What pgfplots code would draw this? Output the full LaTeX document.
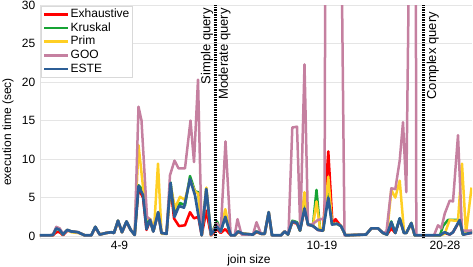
\documentclass[border=0pt]{standalone}
\usepackage{pgfplots}
\pgfplotsset{compat=1.18}
\usepackage{fontspec}
\setmainfont{Liberation Sans}
\definecolor{exh}{RGB}{255,0,0}
\definecolor{kru}{RGB}{22,163,52}
\definecolor{prim}{RGB}{255,207,36}
\definecolor{goo}{RGB}{197,128,160}
\definecolor{este}{RGB}{44,94,150}
\begin{document}
\fontsize{12}{14}\selectfont
\begin{tikzpicture}
\begin{axis}[
  name=ax,
  scale only axis, width=432pt, height=233pt,
  xmin=0, xmax=432, ymin=-0.25, ymax=30,
  ytick={0,5,10,15,20,25,30},
  xtick={79.5,282,405}, xticklabels={4-9,10-19,20-28},
  major tick length=0pt,
  axis lines*=left,
  axis line style={draw=black!12, line width=0.6pt},
  ymajorgrids, grid style={draw=black!10, line width=0.7pt},
  /pgf/number format/assume math mode=true,
  ticklabel style={font=\fontsize{12}{14}\selectfont},
  yticklabel style={xshift=-0.5pt},
  xticklabel style={yshift=1pt},
  xlabel={join size},
  ylabel={execution time (sec)},
  xlabel style={at={(axis cs:209,-0.25)}, anchor=north, yshift=-13pt, font=\fontsize{12}{14}\selectfont},
  ylabel style={at={(axis description cs:-0.074,0.455)}, anchor=center, rotate=0, font=\fontsize{12}{14}\selectfont},
  legend cell align=left,
  legend style={at={(axis description cs:0.003,0.997)}, anchor=north west, draw=black!15, fill=white,
    font=\fontsize{12}{14}\selectfont, inner sep=1.5pt, row sep=0pt,
    nodes={inner sep=1pt, text height=9pt, text depth=2.7pt}},
  legend image code/.code={\draw[#1] (0pt,0pt) -- (24pt,0pt);},
]
\addplot[exh, line width=2.5pt, line join=round] coordinates {(0,0.1) (13,0.1) (16.3,0.5) (19.7,0.5) (23,0.1) (27.3,0.7) (31.3,0.6) (38,0.5) (41.3,0.3) (44.7,0.1) (51.3,0.1) (55.3,1.1) (59.7,0.2) (66,0.4) (71.3,0.5) (74,0.4) (78,1.9) (82,0.5) (86.5,1.8) (90.7,0.8) (94.7,0.15) (98.5,6.2) (103,5.0) (106.5,0.8) (110,2.0) (113.3,0.6) (118.2,3.0) (121.5,0.4) (126.5,0.3) (130.5,6.5) (134,2.3) (139,1.3) (145,1.4) (150,3.1) (154,2.3) (158.3,2.5) (161.7,0.1) (166.3,3.3) (171,0.1) (177,0.9) (180.7,0.4) (185.3,0.9) (190.7,0.1) (194.7,0.1) (198,0.5) (203,0.3) (213,0.2) (216.3,0.5) (221.3,0.3) (224.7,0.3) (228.7,3.0) (232,0.1) (241,0.1) (244.7,0.6) (248,0.2) (252.3,1.8) (257,1.6) (260,0.7) (264.5,3.5) (268,1.5) (273,1.3) (278,0.8) (283,0.7) (288.3,11.0) (292.5,1.5) (295.5,2.2) (299,1.6) (301,1.3) (305.5,0.1) (326,0.2) (331.3,1.0) (338,1.0) (343,0.4) (347,0.2) (351.3,1.0) (355.3,0.4) (359.7,2.2) (364,0.4) (366.3,0.4) (371.3,1.6) (374.7,0.1) (400,0.1) (404.7,0.4) (409.7,0.2) (413,0.5) (419.7,2.0) (423,0.2) (430.7,0.4) (432,0.4)};
\addlegendentry{Exhaustive}
\addplot[kru, line width=2.5pt, line join=round] coordinates {(0,0.1) (10,0.1) (13,0.15) (16.3,1.0) (19.7,0.8) (23,0.2) (27.3,0.8) (31.3,0.6) (38,0.5) (41.3,0.3) (44.7,0.1) (51.3,0.1) (55.3,1.2) (59.7,0.2) (66,0.4) (71.3,0.5) (74,0.4) (78,2.0) (82,0.5) (86.5,1.9) (90.7,0.8) (94.7,0.15) (98.5,6.6) (103,6.0) (106.5,1.5) (110,2.1) (113.3,0.6) (118.2,3.1) (121.5,0.4) (126.5,0.3) (130.5,7.0) (134.5,2.8) (140,4.3) (145,4.0) (150,7.8) (155,5.8) (158.3,5.7) (161.7,0.1) (166.3,6.2) (171,0.2) (177,1.9) (180.7,0.7) (185.3,2.5) (190.7,0.1) (194.7,0.1) (198,0.6) (203,0.3) (213,0.2) (216.3,0.6) (221.3,0.3) (224.7,0.3) (228.7,3.1) (232,0.1) (241,0.1) (244.7,0.6) (248,0.2) (252.3,2.0) (257,1.8) (260,0.7) (264.5,3.9) (268,1.5) (273,1.4) (276.5,6.0) (280,1.0) (283,0.7) (288.3,5.5) (292,1.6) (297,1.6) (301,1.3) (305.5,0.1) (326,0.2) (331.3,1.0) (338,1.0) (343,0.4) (347,0.2) (351.3,1.9) (355.3,0.4) (359.7,2.3) (364,0.4) (366.3,0.4) (371.3,1.7) (374.7,0.1) (400,0.1) (403,1.3) (408,2.1) (416.3,2.1) (419.7,1.9) (423,0.2) (430.7,0.6) (432,0.6)};
\addlegendentry{Kruskal}
\addplot[prim, line width=2.5pt, line join=round] coordinates {(0,0.1) (10,0.1) (13,0.15) (16.3,1.0) (19.7,0.8) (23,0.2) (27.3,0.8) (31.3,0.5) (38,0.4) (41.3,0.3) (44.7,0.1) (51.3,0.1) (55.3,1.2) (59.7,0.2) (66,0.4) (71.3,0.5) (74,0.4) (78,2.0) (82,0.5) (86.5,1.9) (90.7,0.8) (94.7,0.15) (98.5,11.8) (103,6.4) (107,2.3) (110.5,2.2) (114,0.8) (118,9.4) (121.5,0.3) (126.5,0.3) (130.5,6.7) (135,3.6) (140,5.1) (145,4.7) (150,7.3) (155,5.8) (158.3,5.5) (161.7,0.1) (166.3,6.3) (171,0.1) (177,1.5) (180.7,0.6) (185.3,3.5) (190.7,0.1) (194.7,0.1) (198,0.6) (203,0.3) (213,0.2) (216.3,0.6) (221.3,0.3) (224.7,0.3) (228.7,3.1) (232,0.1) (241,0.1) (244.7,0.6) (248,0.2) (252.3,1.9) (257,1.7) (260,0.7) (264.5,5.7) (268,1.5) (273,1.3) (276.5,4.5) (280,1.0) (283,0.7) (288.3,7.7) (292,1.6) (297,1.6) (301,1.3) (305.5,0.1) (326,0.2) (331.3,1.0) (338,1.0) (343,0.4) (347,0.2) (351.3,6.0) (355.3,5.0) (359.7,7.2) (364,0.6) (366.3,0.4) (371.3,1.7) (374.7,0.1) (400,0.1) (404.7,0.3) (409.7,2.1) (414.7,2.0) (418,2.0) (422,9.4) (426,0.3) (431.5,6.3)};
\addlegendentry{Prim}
\addplot[goo, line width=2.5pt, line join=round] coordinates {(0,0.1) (10,0.1) (13,0.2) (16.3,1.2) (19.7,1.0) (23,0.3) (27.3,0.8) (31.3,0.6) (38,0.5) (41.3,0.3) (44.7,0.1) (51.3,0.1) (55.3,1.2) (59.7,0.2) (66,0.4) (71.3,0.5) (74,0.4) (78,2.0) (82,0.5) (86.5,1.9) (90.7,0.8) (94.7,0.15) (98.5,16.8) (101.5,15.0) (107,2.5) (110.5,2.1) (113.3,0.6) (118.2,3.1) (121.5,0.4) (126.5,0.3) (130,7.9) (134.5,9.8) (138.5,8.8) (145,8.8) (150.5,15.0) (154,9.6) (158,20.3) (161.7,0.1) (166.3,6.0) (171,0.1) (177,1.7) (180.7,0.5) (185.5,12.3) (190.7,0.1) (194.7,0.1) (197.5,2.2) (201.5,0.2) (213,0.2) (216.5,1.8) (221,0.3) (224.7,0.3) (228.7,3.1) (232,0.1) (241,0.1) (244.7,0.6) (248.5,0.3) (252.3,14.1) (257,14.2) (260.3,0.8) (264.5,22.3) (268,1.4) (273,1.6) (278,2.1) (284.5,2.3) (288,150) (292,100) (296,100) (300.5,50) (304.5,0.1) (326,0.2) (331.3,1.0) (338,1.0) (343,0.4) (346.5,0.6) (351.3,6.2) (355.3,6.1) (359.7,9.8) (363,14.8) (366.3,5.7) (370.3,50) (374.3,150) (376.3,0.1) (394,0.1) (398,1.4) (401.3,1.0) (404.7,2.9) (409.7,4.6) (413,4.5) (418,13.1) (422,0.7) (426.3,0.7) (430.7,0.7) (432,0.8)};
\addlegendentry{GOO}
\addplot[este, line width=2.7pt, line join=round] coordinates {(0,0.1) (10,0.1) (13,0.15) (16.3,1.0) (19.7,0.8) (23,0.2) (27.3,0.8) (31.3,0.6) (38,0.5) (41.3,0.3) (44.7,0.1) (51.3,0.1) (55.3,1.2) (59.7,0.2) (66,0.4) (71.3,0.5) (74,0.4) (78,2.0) (82,0.5) (86.5,1.9) (90.7,0.8) (94.7,0.15) (98.5,6.5) (103,5.3) (106.5,0.9) (110,2.1) (113.3,0.6) (118.2,3.1) (121.5,0.4) (126.5,0.3) (130.5,6.9) (134.5,2.5) (139,3.9) (144,3.7) (150,7.4) (155,5.3) (161.7,0.1) (166.3,6.1) (171,0.2) (177,1.2) (180.7,0.6) (185.3,2.5) (190.7,0.1) (194.7,0.1) (198,0.6) (203,0.3) (213,0.2) (216.3,0.6) (221.3,0.3) (224.7,0.3) (228.7,3.1) (232,0.1) (241,0.1) (244.7,0.6) (248,0.2) (252.3,1.9) (257,1.7) (260,0.7) (264.5,3.6) (268,1.5) (273,1.3) (278,0.8) (283,0.7) (288.3,5.0) (292,1.5) (297,1.6) (301,1.3) (305.5,0.1) (326,0.2) (331.3,1.0) (338,1.0) (343,0.4) (347,0.2) (351.3,1.8) (355.3,0.4) (359.7,2.3) (364,0.4) (366.3,0.4) (371.3,1.7) (374.7,0.1) (400,0.1) (404.7,0.5) (409.7,0.2) (413,0.5) (419.7,2.1) (423,0.2) (430.7,0.4) (432,0.4)};
\addlegendentry{ESTE}
\draw[black, line width=3pt, dash pattern=on 1.6pt off 0.9pt] (axis cs:175,-0.3) -- (axis cs:175,30);
\draw[black, line width=3pt, dash pattern=on 1.6pt off 0.9pt] (axis cs:383,-0.3) -- (axis cs:383,30);
\node[rotate=90, anchor=south east, inner sep=0pt, font=\fontsize{13}{15}\selectfont] at (axis cs:173.3,29.6) {Simple query};
\node[rotate=90, anchor=north east, inner sep=0pt, font=\fontsize{13}{15}\selectfont] at (axis cs:178.3,29.6) {Moderate query};
\node[rotate=90, anchor=north east, inner sep=0pt, font=\fontsize{13}{15}\selectfont] at (axis cs:386.5,29.1) {Complex query};
\end{axis}
\pgfresetboundingbox
\path ([xshift=-40pt,yshift=-28pt]ax.south west) rectangle ([xshift=1pt,yshift=5pt]ax.north east);
\end{tikzpicture}
\end{document}
